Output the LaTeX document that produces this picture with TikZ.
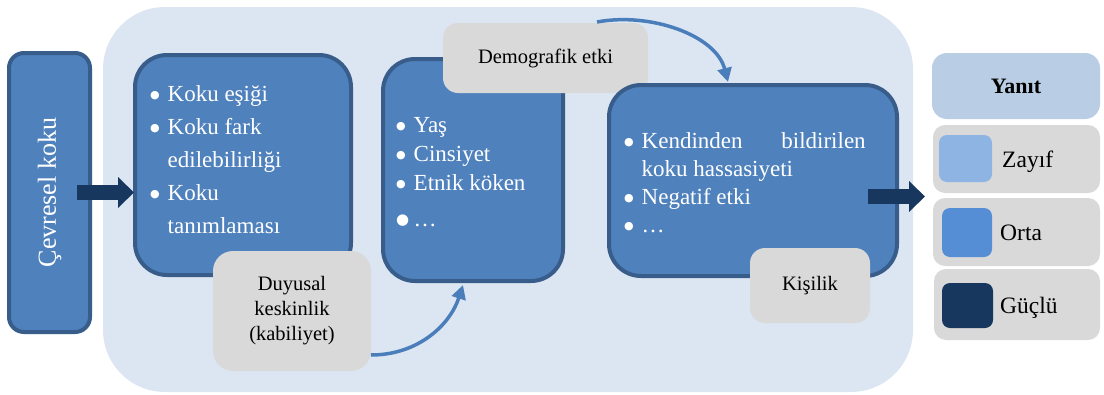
\documentclass[tikz,border=0pt]{standalone}
\usepackage{fontspec}
\setmainfont{Liberation Serif}
\newfontfamily\symfont{DejaVu Sans}
\usetikzlibrary{arrows.meta}
\definecolor{bgblue}{HTML}{DCE6F2}
\definecolor{boxblue}{HTML}{4F81BD}
\definecolor{boxedge}{HTML}{385D8A}
\definecolor{navy}{HTML}{17375E}
\definecolor{lgray}{HTML}{D9D9D9}
\definecolor{curveblue}{HTML}{4A7EBB}
\definecolor{headblue}{HTML}{B9CDE5}
\definecolor{weakblue}{HTML}{8EB4E3}
\definecolor{midblue}{HTML}{558ED5}
\newcommand\bitem{\makebox[17.5pt][l]{\raisebox{2.5pt}{\fontsize{11}{11}\symfont ●}}}
\newcommand\bigbitem{\makebox[17.5pt][l]{\raisebox{2pt}{\fontsize{15}{15}\symfont ●}}}
\newcommand\bcont{\hskip17.5pt}
\tikzset{
  bluebox/.style={draw=boxedge, line width=4pt, fill=boxblue, rounded corners=#1, inner sep=0pt, outer sep=0pt},
  graybox/.style={fill=lgray, rounded corners=#1, inner sep=0pt, outer sep=0pt, align=center, text=black, font=\fontsize{20.5}{25}\selectfont},
  bullettext/.style={anchor=base west, inner sep=0pt, text=white, font=\fontsize{23}{33}\selectfont},
  legendtext/.style={anchor=base west, inner sep=0pt, text=black, font=\fontsize{23.5}{28}\selectfont},
  swatch/.style={fill=#1, rounded corners=8pt, inner sep=0pt, outer sep=0pt},
  bigarrow/.style={draw=navy, line width=15pt, -{Triangle[width=30pt,length=16pt]}},
  curvearrow/.style={draw=curveblue, line width=3.5pt, -{Triangle[width=14pt,length=14pt]}},
}
\begin{document}
\begin{tikzpicture}[x=1pt,y=-1pt]
\useasboundingbox (0,0) rectangle (1104,394);
% background panel
\node[fill=bgblue, rounded corners=62pt, minimum width=810pt, minimum height=385pt, inner sep=0pt] (bg) at (508,199.5) {};
% left input box
\node[bluebox=15pt, minimum width=81pt, minimum height=279pt] (cev) at (49.5,192.5) {};
\node[rotate=90, text=white, inner sep=0pt, font=\fontsize{26}{26}\selectfont] (cevt) at (cev.center) {Çevresel koku};
% box 1
\node[bluebox=32pt, minimum width=216pt, minimum height=220pt] (b1) at (243,165) {};
\node[bullettext] (t1) at (150,101) {\vtop{\baselineskip=33pt
  \hbox{\bitem Koku eşiği}
  \hbox{\bitem Koku fark}
  \hbox{\bcont edilebilirliği}
  \hbox{\bitem Koku}
  \hbox{\bcont tanımlaması}}};
\draw[bigarrow] ([xshift=-13pt]cev.east) -- ([xshift=-1pt]cev.east -| b1.west);
\node[graybox=20pt, minimum width=158pt, minimum height=120pt] (duy) at (292,311) {Duyusal\\keskinlik\\(kabiliyet)};
% box 2
\node[bluebox=32pt, minimum width=180pt, minimum height=222pt] (b2) at (473,170) {};
\node[bullettext] (t2) at (396,132) {\vtop{\baselineskip=29pt
  \hbox{\bitem Yaş}
  \hbox{\bitem Cinsiyet}
  \hbox{\bitem Etnik köken}
  \vskip7pt
  \hbox{\bigbitem …}}};
\node[graybox=15pt, minimum width=205pt, minimum height=70pt] (demo) at (545.5,58) {Demografik etki};
% box 3
\node[bluebox=32pt, minimum width=288pt, minimum height=191pt] (b3) at (753,180.5) {};
\node[bullettext, font=\fontsize{23}{28}\selectfont] (t3) at (624,148) {\vtop{\baselineskip=28pt
  \hbox{\bitem\hbox to 224pt{Kendinden\hfill bildirilen}}
  \hbox{\bcont koku hassasiyeti}
  \hbox{\bitem Negatif etki}
  \hbox{\bitem …}}};
\node[graybox=15pt, minimum width=120pt, minimum height=75pt] (kis) at (810,285.5) {Kişilik};
% curved connectors
\draw[curvearrow] ([yshift=-44pt]duy.east) .. controls (418,355) and (450,325) .. ([xshift=-10pt,yshift=-4pt]b2.south);
\draw[curvearrow] ([xshift=51.5pt,yshift=1pt]demo.north) .. controls (650,12) and (716,35) .. ([xshift=-25pt,yshift=3pt]b3.north);
% legend
\node[fill=headblue, rounded corners=15pt, minimum width=168pt, minimum height=66pt, inner sep=0pt, font=\fontsize{22}{22}\selectfont\bfseries] (yan) at (1016,86) {Yanıt};
\node[graybox=12pt, minimum width=167pt, minimum height=68pt] (rz) at (1016.5,159) {};
\node[swatch=weakblue, minimum width=53pt, minimum height=47pt] (sz) at (965.5,158.5) {};
\node[legendtext] (tz) at (1002,167) {Zayıf};
\node[graybox=12pt, minimum width=167pt, minimum height=68pt] (ro) at (1016.5,232) {};
\node[swatch=midblue, minimum width=50pt, minimum height=49pt] (so) at (967,232.5) {};
\node[legendtext] (to) at (1000,240) {Orta};
\node[graybox=12pt, minimum width=166pt, minimum height=71pt] (rg) at (1017,304.5) {};
\node[swatch=navy, minimum width=51pt, minimum height=45pt] (sg) at (967.5,305.5) {};
\node[legendtext] (tg) at (1000,313) {Güçlü};
% output arrow
\coordinate (o1) at (868,196.5);
\coordinate (o2) at (925,196.5);
\draw[bigarrow] (o1) -- (o2);
\end{tikzpicture}
\end{document}
